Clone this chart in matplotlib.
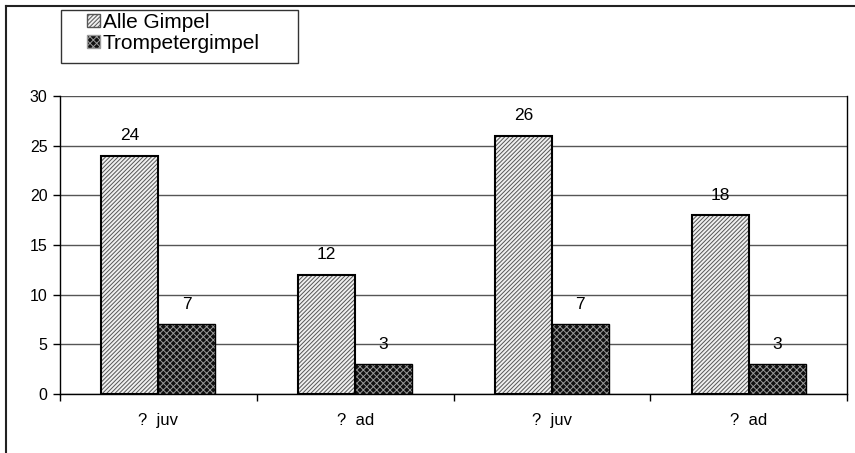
import matplotlib
matplotlib.use("Agg")
import matplotlib.pyplot as plt
from matplotlib.patches import Patch, Rectangle
from matplotlib.lines import Line2D
import numpy as np

plt.rcParams['font.family'] = ['Liberation Sans', 'DejaVu Sans']
plt.rcParams['hatch.linewidth'] = 0.7

categories = ["?  juv", "?  ad", "?  juv", "?  ad"]
series_names = ["Alle Gimpel", "Trompetergimpel"]
alle = [24, 12, 26, 18]
trompeter = [7, 3, 7, 3]
y_ticks = [0, 5, 10, 15, 20, 25, 30]

W, H = 855, 453
fig = plt.figure(figsize=(W / 100, H / 100), dpi=100)
ax = fig.add_axes([60 / W, 1 - 394 / H, (847 - 60) / W, (394 - 96) / H])

x = np.arange(len(categories))
bw = 0.29

styles = [
    dict(face="#f0f0f0", hatch="////////", hcol="#555555", lw=1.5),
    dict(face="#111111", hatch="xxxxx", hcol="#9a9a9a", lw=1.0),
]
data = [alle, trompeter]
offsets = [-bw / 2, bw / 2]
for vals, st, off in zip(data, styles, offsets):
    ax.bar(x + off, vals, bw, color=st["face"], hatch=st["hatch"],
           edgecolor=st["hcol"], linewidth=0, zorder=3)
    ax.bar(x + off, vals, bw, fill=False, edgecolor="black",
           linewidth=st["lw"], zorder=4)
    for xi, v in zip(x + off, vals):
        ax.annotate(str(v), (xi, v), xytext=(0, 9), textcoords="offset points",
                    ha="center", va="bottom", fontsize=12.5, zorder=5)

ax.set_xlim(-0.5, len(categories) - 0.5)
ax.set_ylim(0, 30)
ax.set_yticks(y_ticks)
ax.set_yticklabels([str(t) for t in y_ticks], fontsize=11.5)
ax.yaxis.grid(True, color="#555555", linewidth=1.0, zorder=0)
ax.set_axisbelow(True)

ax.set_xticks(x)
ax.set_xticklabels(categories, fontsize=12)
ax.tick_params(axis="x", length=0, pad=14)
ax.set_xticks(np.arange(-0.5, len(categories), 1), minor=True)
ax.tick_params(axis="x", which="minor", length=5, width=1, direction="out")
ax.tick_params(axis="y", length=5, width=1, direction="out", pad=4)

ax.spines["top"].set_visible(False)
ax.spines["right"].set_visible(True)
for s in ["left", "bottom", "right"]:
    ax.spines[s].set_linewidth(1.0)
    ax.spines[s].set_color("black")

# outer chart border (left and top)
fig.add_artist(Line2D([6 / W, 6 / W], [0, 1 - 6 / H], color="#222222", linewidth=1.5))
fig.add_artist(Line2D([6 / W, 1], [1 - 6 / H, 1 - 6 / H], color="#222222", linewidth=1.5))

# legend frame
fig.add_artist(Rectangle((61 / W, 1 - 63 / H), (298 - 61) / W, (63 - 10) / H,
                         transform=fig.transFigure, facecolor="white",
                         edgecolor="#333333", linewidth=1.0, zorder=1))

handles = [Patch(facecolor=st["face"], hatch=st["hatch"], edgecolor=st["hcol"]) for st in styles]
leg = fig.legend(handles, series_names, loc="upper left",
                 bbox_to_anchor=(87 / W, 1 - 13 / H), fontsize=15,
                 frameon=False,
                 handlelength=0.6, handleheight=0.6, handletextpad=0.15,
                 borderpad=0.0, labelspacing=0.1, borderaxespad=0)
leg.set_zorder(2)

fig.savefig("out.png", dpi=100)
